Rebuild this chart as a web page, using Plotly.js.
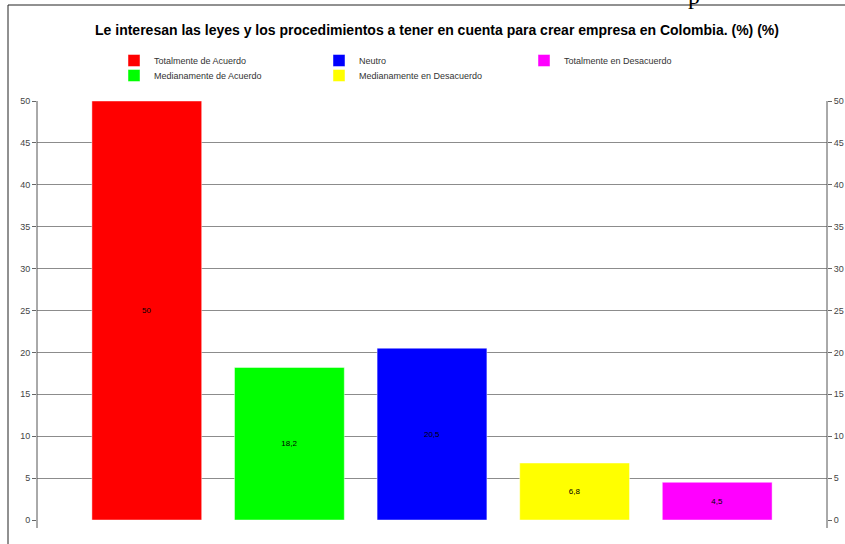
<!DOCTYPE html>
<html>
<head>
<meta charset="utf-8">
<script src="https://cdn.plot.ly/plotly-3.0.1.min.js"></script>
<style>
html,body{margin:0;padding:0;background:#fff;}
#chart{width:845px;height:544px;}
</style>
</head>
<body>
<div id="chart"></div>
<script>
var categories = ["Totalmente de Acuerdo", "Medianamente de Acuerdo", "Neutro", "Medianamente en Desacuerdo", "Totalmente en Desacuerdo"];
var values = [50, 18.2, 20.5, 6.8, 4.5];
var colors = ["#ff0000", "#00ff00", "#0000ff", "#ffff00", "#ff00ff"];
var legendRows = ["legend", "legend2", "legend", "legend2", "legend"];
var yTicks = [0, 5, 10, 15, 20, 25, 30, 35, 40, 45, 50];

var traces = categories.map(function (c, i) {
  return {
    type: "bar",
    name: c,
    x: [c],
    y: [values[i]],
    width: 0.77,
    text: [String(values[i]).replace(".", ",")],
    textposition: "inside",
    insidetextanchor: "middle",
    textfont: {family: "Liberation Sans Narrow, Arial Narrow, sans-serif", size: 8, color: "#000"},
    marker: {color: colors[i], line: {color: "rgba(255,255,255,0.45)", width: 1}},
    legend: legendRows[i],
    hoverinfo: "none"
  };
});

var L = 37, R = 827, T = 101, B = 520;
function px2x(p) { return (p - L) / (R - L); }
function px2y(p) { return (B - p) / (B - T); }

var axisFont = {family: "Liberation Sans Narrow, Arial Narrow, sans-serif", size: 9, color: "#444"};
var legendFont = {family: "Liberation Sans Narrow, Arial Narrow, sans-serif", size: 9, color: "#333"};

function legendRow(yTopPx) {
  return {
    orientation: "h",
    x: px2x(114), xanchor: "left", xref: "paper",
    y: px2y(yTopPx), yanchor: "top", yref: "paper",
    traceorder: "normal",
    entrywidth: 160, entrywidthmode: "pixels",
    itemwidth: 30,
    font: legendFont,
    bgcolor: "rgba(0,0,0,0)",
    borderwidth: 0
  };
}

var layout = {
  width: 845, height: 544,
  margin: {l: L, r: 845 - R, t: T, b: 544 - B, pad: 0},
  paper_bgcolor: "#fff", plot_bgcolor: "#fff",
  separators: ",.",
  barmode: "overlay",
  showlegend: true,
  title: {
    text: "<b>Le interesan las leyes y los procedimientos a tener en cuenta para crear empresa en Colombia. (%) (%)</b>",
    font: {family: "Liberation Sans, Arial, sans-serif", size: 14, color: "#000"},
    x: 437 / 845, xanchor: "center", xref: "container",
    y: 1 - 30 / 544, yanchor: "middle", yref: "container"
  },
  legend: legendRow(46),
  legend2: legendRow(61),
  xaxis: {
    type: "category",
    categoryorder: "array", categoryarray: categories,
    range: [-0.77, 4.77],
    showticklabels: false, ticks: "", showgrid: false, zeroline: false, showline: false,
    fixedrange: true
  },
  yaxis: {
    range: [0, 50],
    tickvals: yTicks, ticktext: yTicks.map(String),
    ticks: "outside", ticklen: 4, tickcolor: "#666", tickwidth: 1,
    showgrid: true, gridcolor: "#8c8c8c", gridwidth: 1,
    zeroline: false, showline: false,
    tickfont: axisFont, fixedrange: true
  },
  yaxis2: {
    overlaying: "y", side: "right", anchor: "x",
    range: [0, 50],
    tickvals: yTicks, ticktext: yTicks.map(String),
    ticks: "outside", ticklen: 4, tickcolor: "#666", tickwidth: 1,
    showgrid: false, zeroline: false, showline: false,
    tickfont: axisFont, fixedrange: true
  },
  shapes: [
    {type: "line", xref: "paper", yref: "paper", x0: 0, x1: 0, y0: px2y(528), y1: 1, line: {color: "#555", width: 1}},
    {type: "line", xref: "paper", yref: "paper", x0: 1, x1: 1, y0: px2y(528), y1: 1, line: {color: "#555", width: 1}},
    {type: "line", xref: "paper", yref: "paper", x0: px2x(8), x1: px2x(8), y0: px2y(544), y1: px2y(5), line: {color: "#222", width: 1}},
    {type: "line", xref: "paper", yref: "paper", x0: px2x(8), x1: px2x(845), y0: px2y(5), y1: px2y(5), line: {color: "#222", width: 1}}
  ],
  annotations: [
    {text: "p", xref: "paper", yref: "paper", x: px2x(694), y: px2y(11), xanchor: "center", yanchor: "bottom",
     showarrow: false, font: {family: "Liberation Serif, Times New Roman, serif", size: 24, color: "#000"}}
  ]
};

traces.push({type: "scatter", x: [categories[0]], y: [0], yaxis: "y2", mode: "markers",
  marker: {opacity: 0}, showlegend: false, hoverinfo: "none"});

Plotly.newPlot("chart", traces, layout, {displayModeBar: false, staticPlot: true});
</script>
</body>
</html>
